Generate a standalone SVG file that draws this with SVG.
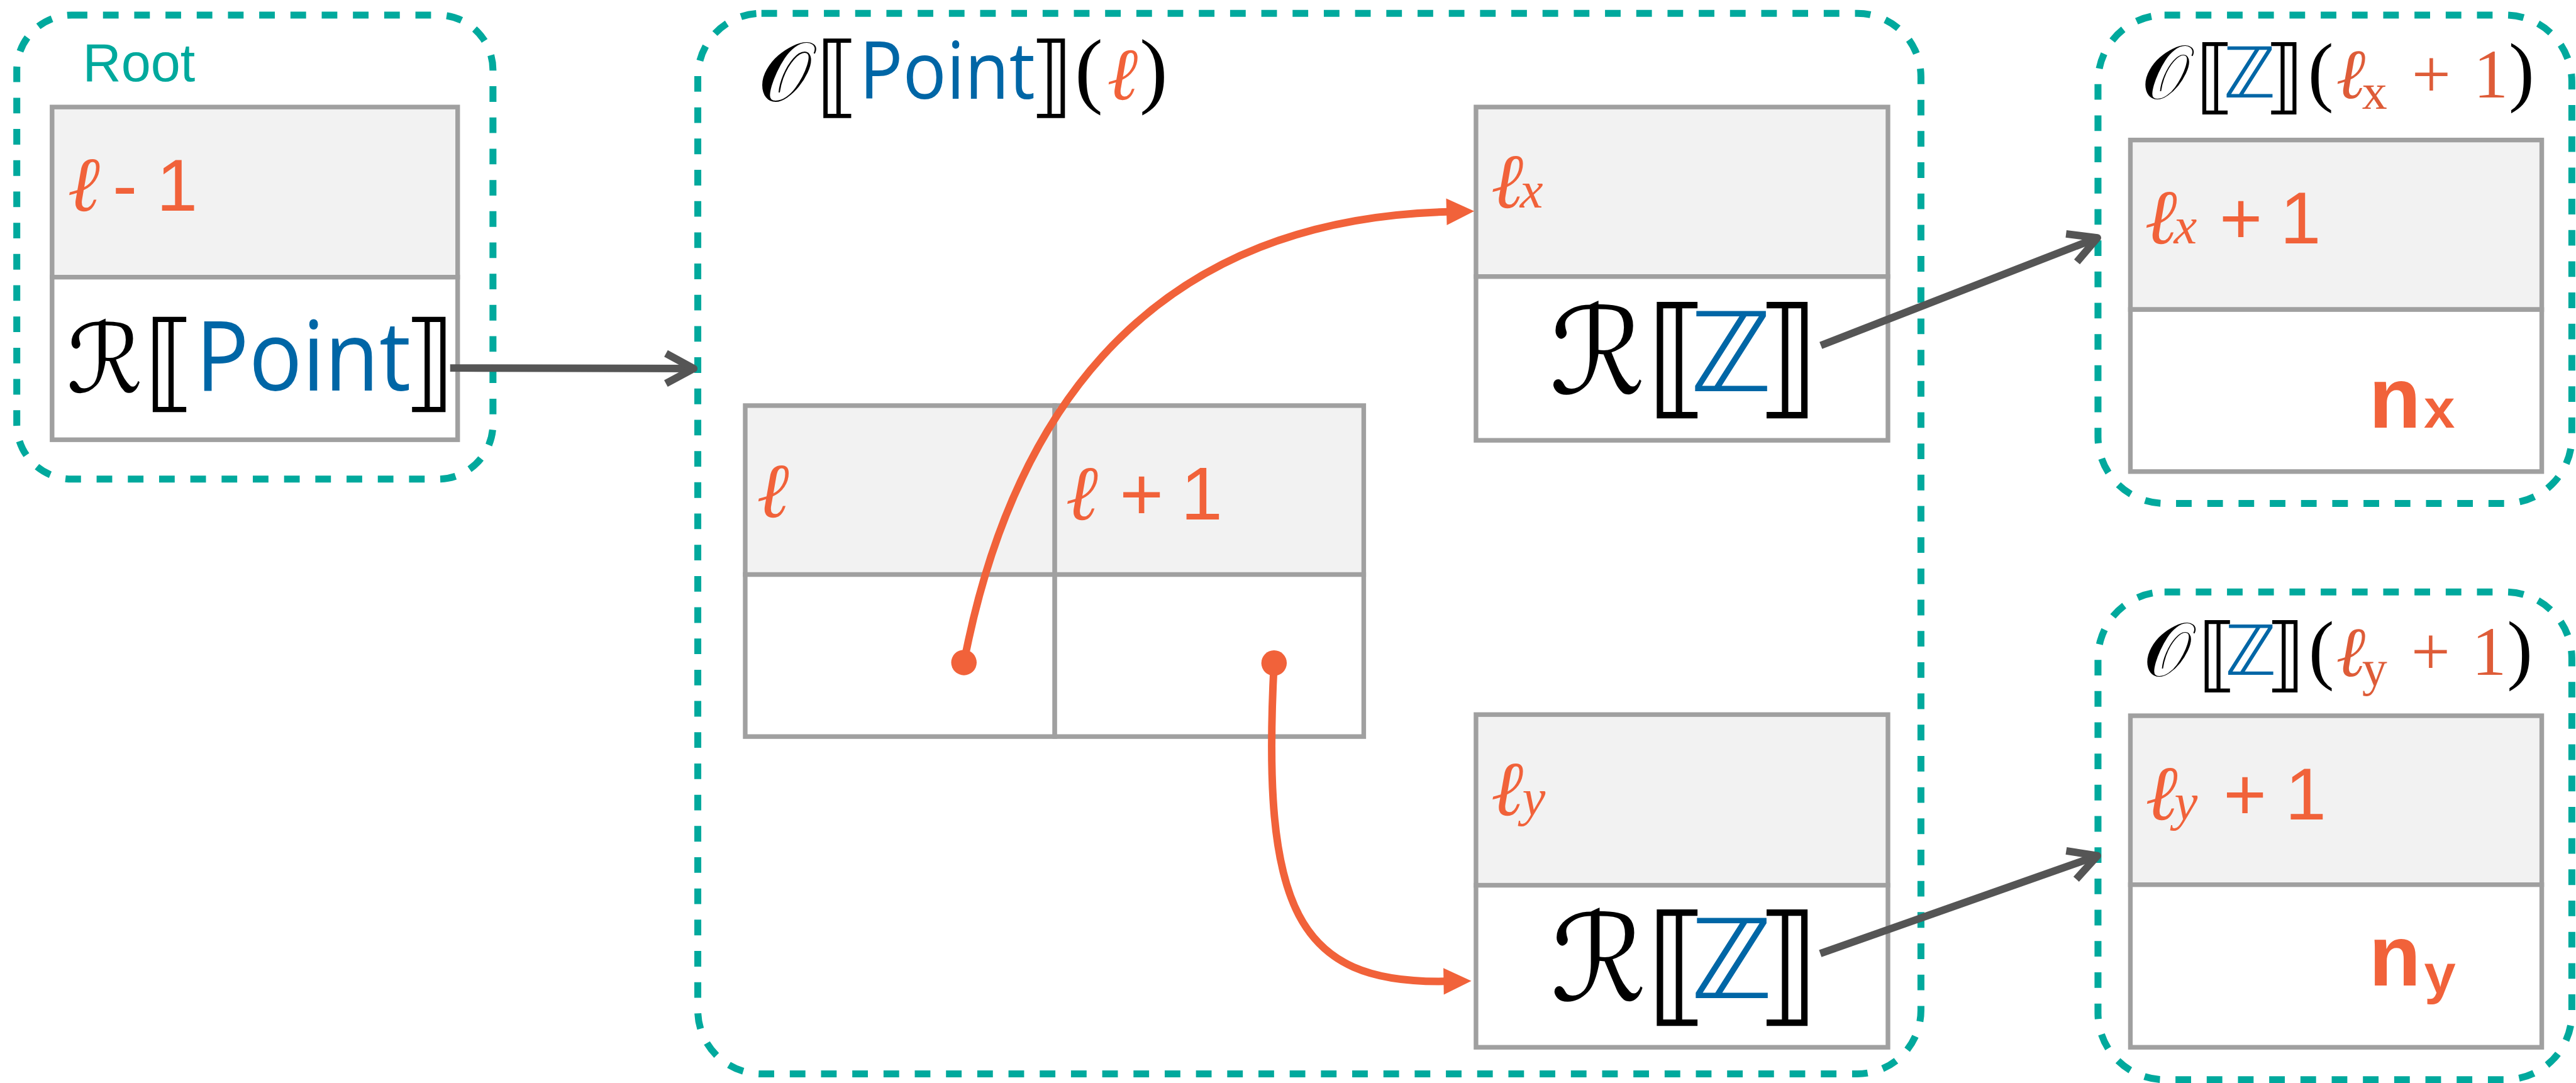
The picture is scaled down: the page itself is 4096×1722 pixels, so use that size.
<svg xmlns="http://www.w3.org/2000/svg" width="4096" height="1722" viewBox="0 0 4096 1722">
<style>
.dash{fill:none;stroke:#00A99D;stroke-width:12;stroke-dasharray:27 27}
.cell{stroke:#A0A0A0;stroke-width:8}
.hd{fill:#F2F2F2}
.bd{fill:#FFFFFF}
.sans{font-family:'Liberation Sans',Arial,sans-serif}
.os{font-family:'Open Sans','Liberation Sans',sans-serif}
.ser{font-family:'Liberation Serif','DejaVu Serif',serif}
.mth{font-family:'DejaVu Serif','DejaVu Sans',serif}
.ell{font-family:'DejaVu Serif',serif;font-style:italic}
.br{font-family:'DejaVu Sans',sans-serif}
.mono{font-family:'Liberation Mono','Courier New',monospace;font-weight:bold}
.or{fill:#F1623A}
.or2{fill:#DE5C38}
.bl{fill:#0066A6}
.k{fill:#000000}
.tl{fill:#00A99D}
.gl{fill:none;stroke:#555555;stroke-width:13}
.ol{fill:none;stroke:#F1623A;stroke-width:13}
</style>
<defs>
<marker id="chev" markerUnits="userSpaceOnUse" orient="auto" refX="0" refY="0" markerWidth="10" markerHeight="10" overflow="visible">
<path d="M-48,-26 L0,0 L-48,26" fill="none" stroke="#555555" stroke-width="13" stroke-linejoin="round"/>
</marker>
<marker id="tri" markerUnits="userSpaceOnUse" orient="auto" refX="0" refY="0" markerWidth="10" markerHeight="10" overflow="visible">
<path d="M-2,-23 L46,0 L-2,23 Z" fill="#F1623A"/>
</marker>
</defs>
<rect x="0" y="0" width="4096" height="1722" fill="#FFFFFF"/>
<g transform="scale(0.92)">

<g id="root">
<rect class="dash" x="29" y="26" width="823" height="802" rx="95"/>
<text class="sans tl" x="143" y="140" font-size="92">Root</text>
<rect class="cell hd" x="90" y="185" width="701" height="294"/>
<rect class="cell bd" x="90" y="479" width="701" height="281"/>
<text text-anchor="middle" y="364"><tspan class="ell or" x="145" font-size="134">ℓ</tspan><tspan class="sans or" x="216" font-size="128"> - </tspan><tspan class="sans or" x="306" font-size="128">1</tspan></text>
<text text-anchor="middle"><tspan class="mth k" x="181" y="678" font-size="165">ℛ</tspan><tspan class="br k" x="294" y="688" font-size="185">⟦</tspan><tspan class="os bl" x="524" y="675" font-size="168" textLength="372" lengthAdjust="spacingAndGlyphs">Point</tspan><tspan class="br k" x="742" y="688" font-size="185">⟧</tspan></text>
</g>

<g id="point-object">
<rect class="dash" x="1206" y="23" width="2114" height="1833" rx="110"/>
<text text-anchor="middle"><tspan class="mth k" x="1356" y="175" font-size="147">𝒪</tspan><tspan class="br k" x="1448" y="184" font-size="154">⟦</tspan><tspan class="os bl" x="1637" y="171" font-size="138" textLength="304" lengthAdjust="spacingAndGlyphs">Point</tspan><tspan class="br k" x="1817" y="184" font-size="154">⟧</tspan><tspan class="ser k" x="1882" y="168" font-size="146">(</tspan><tspan class="ell or" x="1940" y="172" font-size="128">ℓ</tspan><tspan class="ser k" x="1994" y="168" font-size="146">)</tspan></text>
</g>

<g id="array">
<rect class="cell hd" x="1288" y="701" width="535" height="292"/>
<rect class="cell hd" x="1823" y="701" width="534" height="292"/>
<rect class="cell bd" x="1288" y="993" width="535" height="280"/>
<rect class="cell bd" x="1823" y="993" width="534" height="280"/>
<text class="ell or" x="1336" y="894" font-size="134" text-anchor="middle">ℓ</text>
<text text-anchor="middle" y="898"><tspan class="ell or" x="1870" font-size="134">ℓ</tspan><tspan class="sans or" x="1973" font-size="130"> + </tspan><tspan class="sans or" x="2077" font-size="130">1</tspan></text>
</g>

<g id="cell-x">
<rect class="cell hd" x="2551" y="185" width="712" height="293"/>
<rect class="cell bd" x="2551" y="478" width="712" height="283"/>
<text text-anchor="middle" y="359"><tspan class="ell or" x="2605" font-size="134">ℓ</tspan><tspan class="ser or" x="2647" font-size="90" font-style="italic">x</tspan></text>
<text text-anchor="middle"><tspan class="mth k" x="2761" y="680" font-size="208">ℛ</tspan><tspan class="br k" x="2900" y="693" font-size="226">⟦</tspan><tspan class="br bl" x="2992" y="676" font-size="190">ℤ</tspan><tspan class="br k" x="3090" y="693" font-size="226">⟧</tspan></text>
</g>

<g id="cell-y">
<rect class="cell hd" x="2551" y="1235" width="712" height="295"/>
<rect class="cell bd" x="2551" y="1530" width="712" height="280"/>
<text text-anchor="middle" y="1409"><tspan class="ell or" x="2605" font-size="134">ℓ</tspan><tspan class="ser or" x="2651" font-size="90" font-style="italic">y</tspan></text>
<text text-anchor="middle"><tspan class="mth k" x="2763" y="1729" font-size="208">ℛ</tspan><tspan class="br k" x="2900" y="1744" font-size="226">⟦</tspan><tspan class="br bl" x="2993" y="1725" font-size="190">ℤ</tspan><tspan class="br k" x="3090" y="1744" font-size="226">⟧</tspan></text>
</g>

<g id="int-x">
<rect class="dash" x="3626" y="26" width="819" height="844" rx="115"/>
<text text-anchor="middle"><tspan class="mth k" x="3742" y="171" font-size="132">𝒪</tspan><tspan class="br k" x="3829" y="179" font-size="140">⟦</tspan><tspan class="br bl" x="3888" y="168" font-size="121">ℤ</tspan><tspan class="br k" x="3948" y="179" font-size="140">⟧</tspan><tspan class="ser k" x="4011" y="167" font-size="133">(</tspan><tspan class="ell or2" x="4063" y="170" font-size="122">ℓ</tspan><tspan class="ser or2" x="4104" y="188" font-size="87">x</tspan><tspan class="ser or2" x="4202" y="168" font-size="120"> + </tspan><tspan class="ser or2" x="4305" y="168" font-size="120">1</tspan><tspan class="ser k" x="4358" y="167" font-size="133">)</tspan></text>
<rect class="cell hd" x="3682" y="242" width="711" height="293"/>
<rect class="cell bd" x="3682" y="535" width="711" height="280"/>
<text text-anchor="middle" y="421"><tspan class="ell or" x="3735" font-size="134">ℓ</tspan><tspan class="ser or" x="3777" font-size="90" font-style="italic">x</tspan><tspan class="sans or" x="3873" font-size="127"> + </tspan><tspan class="sans or" x="3976" font-size="127">1</tspan></text>
<text text-anchor="middle" y="739"><tspan class="mono or" x="4139" font-size="150">n</tspan><tspan class="mono or" x="4216" font-size="95">x</tspan></text>
</g>

<g id="int-y">
<rect class="dash" x="3626" y="1023" width="819" height="843" rx="115"/>
<text text-anchor="middle"><tspan class="mth k" x="3746" y="1169" font-size="132">𝒪</tspan><tspan class="br k" x="3833" y="1178" font-size="140">⟦</tspan><tspan class="br bl" x="3890" y="1166" font-size="119">ℤ</tspan><tspan class="br k" x="3950" y="1178" font-size="140">⟧</tspan><tspan class="ser k" x="4012" y="1166" font-size="133">(</tspan><tspan class="ell or2" x="4063" y="1168" font-size="122">ℓ</tspan><tspan class="ser or2" x="4104" y="1185" font-size="87">y</tspan><tspan class="ser or2" x="4201" y="1166" font-size="120"> + </tspan><tspan class="ser or2" x="4302" y="1166" font-size="120">1</tspan><tspan class="ser k" x="4355" y="1166" font-size="133">)</tspan></text>
<rect class="cell hd" x="3682" y="1237" width="711" height="292"/>
<rect class="cell bd" x="3682" y="1529" width="711" height="281"/>
<text text-anchor="middle" y="1416"><tspan class="ell or" x="3736" font-size="134">ℓ</tspan><tspan class="ser or" x="3778" font-size="90" font-style="italic">y</tspan><tspan class="sans or" x="3880" font-size="128"> + </tspan><tspan class="sans or" x="3985" font-size="128">1</tspan></text>
<text text-anchor="middle" y="1703"><tspan class="mono or" x="4139" font-size="150">n</tspan><tspan class="mono or" x="4217" y="1716" font-size="95">y</tspan></text>
</g>

<g id="connectors">
<path class="gl" d="M778,636 L1199,637" marker-end="url(#chev)"/>
<path class="gl" d="M3147,597 L3625,411" marker-end="url(#chev)"/>
<path class="gl" d="M3146,1648 L3625,1479" marker-end="url(#chev)"/>
<path class="ol" d="M1666,1145 C1740,760 1950,380 2502,366" marker-end="url(#tri)"/>
<path class="ol" d="M2202,1146 C2180,1570 2240,1700 2497,1696" marker-end="url(#tri)"/>
<circle cx="1666" cy="1145" r="22" fill="#F1623A"/>
<circle cx="2202" cy="1146" r="22" fill="#F1623A"/>
</g>

</g>
</svg>
